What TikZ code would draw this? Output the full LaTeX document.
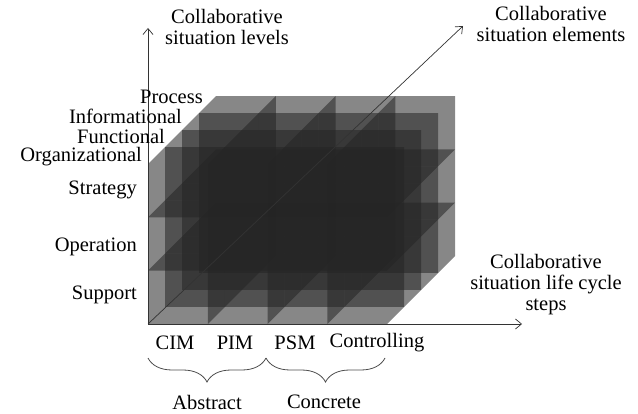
\documentclass[tikz,border=0pt]{standalone}
\usepackage{fontspec}
\setmainfont{Liberation Serif}
\usetikzlibrary{arrows.meta, decorations.pathreplacing}

\begin{document}
\begin{tikzpicture}[x=1pt, y=1pt, >={Straight Barb[length=6pt, width=10pt]},
    cell/.style={fill=black!86, fill opacity=0.55},
    axis/.style={->, draw=black!80, line width=0.7pt},
    lbl/.style={font=\fontsize{20.5}{21}\selectfont, inner sep=0pt, align=center},
    curly/.style={decorate, decoration={brace, amplitude=24pt}, draw=black!70, line width=0.8pt}]

    \useasboundingbox (0,0) rectangle (638,413);

    \foreach \k in {3,2,1,0}
      \foreach \i in {0,...,3}
        \foreach \j in {0,...,2}
          \fill[cell] ({148+59.75*\i+17*\k}, {89+53.33*\j+17*\k}) -- ++(59.75,0) -- ++(17,17)
            -- ++(0,53.33) -- ++(-59.75,0) -- ++(-17,-17) -- cycle;

    \coordinate (O) at (148,89);
    \coordinate (ytip) at (148,385);
    \coordinate (xtip) at (522,89);
    \coordinate (ztip) at (463,387);
    \draw[axis] (O) -- (ytip);
    \draw[axis] (O) -- (xtip);
    \draw[axis] (O) -- (ztip);

    \node[lbl] (levels) at (227,386) {Collaborative\\situation levels};
    \node[lbl] (elements) at (551,389) {Collaborative\\situation elements};
    \node[lbl] (steps) at (546,128) {Collaborative\\situation life cycle\\steps};

    \node[lbl, anchor=east] (process) at (203,316) {Process};
    \node[lbl, anchor=east] (info) at (182,297) {Informational};
    \node[lbl, anchor=east] (func) at (165,277) {Functional};
    \node[lbl, anchor=east] (org) at (142,256) {Organizational};
    \node[lbl, anchor=east] (strategy) at (137,223) {Strategy};
    \node[lbl, anchor=east] (operation) at (137,166) {Operation};
    \node[lbl, anchor=east] (support) at (137,118) {Support};

    \node[lbl] (cim) at (175,70) {CIM};
    \node[lbl] (pim) at (235,70) {PIM};
    \node[lbl] (psm) at (295,70) {PSM};
    \node[lbl] (ctrl) at (377,70) {Controlling};

    \coordinate (b0) at (148,55);
    \coordinate (b1) at (266,55);
    \coordinate (b2) at (385,55);
    \draw[curly] (b1) -- (b0);
    \draw[curly] (b2) -- (b1);

    \node[lbl] (abstract) at (207,11) {Abstract};
    \node[lbl] (concrete) at (324,11) {Concrete};
\end{tikzpicture}
\end{document}
